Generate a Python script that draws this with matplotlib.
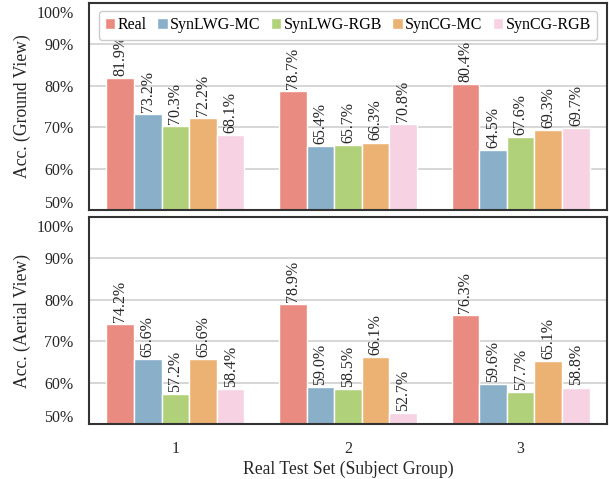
import matplotlib
matplotlib.use("Agg")
import matplotlib.pyplot as plt
import matplotlib.transforms as mtransforms
import numpy as np

groups = ["1", "2", "3"]
methods = ["Real", "SynLWG-MC", "SynLWG-RGB", "SynCG-MC", "SynCG-RGB"]
colors = ["#EA8B81", "#8AAFC9", "#B1D07A", "#ECB274", "#F6D2E3"]

ground = {
    "Real": [81.9, 78.7, 80.4],
    "SynLWG-MC": [73.2, 65.4, 64.5],
    "SynLWG-RGB": [70.3, 65.7, 67.6],
    "SynCG-MC": [72.2, 66.3, 69.3],
    "SynCG-RGB": [68.1, 70.8, 69.7],
}
aerial = {
    "Real": [74.2, 78.9, 76.3],
    "SynLWG-MC": [65.6, 59.0, 59.6],
    "SynLWG-RGB": [57.2, 58.5, 57.7],
    "SynCG-MC": [65.6, 66.1, 65.1],
    "SynCG-RGB": [58.4, 52.7, 58.8],
}
yticks = [50, 60, 70, 80, 90, 100]
ytick_labels = ["50%", "60%", "70%", "80%", "90%", "100%"]

plt.rcParams["font.family"] = ["Liberation Serif", "DejaVu Serif"]
FS = 11.5
LFS = 12.7
plt.rcParams["font.size"] = FS

fig = plt.figure(figsize=(6.09, 4.79), dpi=100)
W, H = 609, 479
ax1 = fig.add_axes([89 / W, 1 - 210 / H, (607 - 89) / W, 207 / H])
ax2 = fig.add_axes([89 / W, 1 - 424 / H, (607 - 89) / W, 207 / H])

x = np.arange(len(groups))
n = len(methods)
total = 0.8
bw = total / n

def draw(ax, data, ylabel):
    ax.set_axisbelow(True)
    for i, m in enumerate(methods):
        pos = x - total / 2 + bw * (i + 0.5)
        bars = ax.bar(pos, np.array(data[m]) - 50, bottom=50, width=bw,
                      color=colors[i], edgecolor="white", linewidth=1.0,
                      label=m, zorder=2)
        for b, v in zip(bars, data[m]):
            ax.annotate(f"{v:.1f}%", (b.get_x() + b.get_width() / 2, v),
                        xytext=(0, 1.5), textcoords="offset points",
                        rotation=90, ha="center", va="bottom",
                        fontsize=FS, color="#262626", zorder=3)
    ax.set_xlim(-0.5, 2.5)
    ax.set_ylim(50, 100)
    ax.set_yticks(yticks)
    ax.set_yticklabels(ytick_labels)
    ax.yaxis.grid(True, color="#d3d3d3", linewidth=1.3, zorder=0)
    ax.xaxis.grid(False)
    for s in ax.spines.values():
        s.set_color("#333333")
        s.set_linewidth(1.5)
    ax.tick_params(axis="both", length=0, colors="#262626", labelsize=FS)
    ax.tick_params(axis="y", pad=11)
    ax.tick_params(axis="x", pad=12)
    ax.set_ylabel(ylabel, fontsize=LFS, color="#262626", labelpad=4)
    ticks = ax.yaxis.get_major_ticks()
    down = mtransforms.ScaledTranslation(0, -9 / 100, fig.dpi_scale_trans)
    up = mtransforms.ScaledTranslation(0, 8 / 100, fig.dpi_scale_trans)
    ticks[0].label1.set_transform(ticks[0].label1.get_transform() + up)
    ticks[-1].label1.set_transform(ticks[-1].label1.get_transform() + down)

draw(ax1, ground, "Acc. (Ground View)")
draw(ax2, aerial, "Acc. (Aerial View)")

ax1.set_xticks(x)
ax1.set_xticklabels([])
ax2.set_xticks(x)
ax2.set_xticklabels(groups)
ax2.set_xlabel("Real Test Set (Subject Group)", fontsize=LFS, color="#262626",
               labelpad=3)

leg = ax1.legend(loc="upper center", ncol=5, frameon=True, fancybox=True,
                 framealpha=1.0, edgecolor="#cccccc", handlelength=0.65,
                 handleheight=0.65, handletextpad=0.15, columnspacing=0.65,
                 borderpad=0.4, borderaxespad=0.5, fontsize=FS)
leg.set_zorder(5)

fig.savefig("out.png", dpi=100)
